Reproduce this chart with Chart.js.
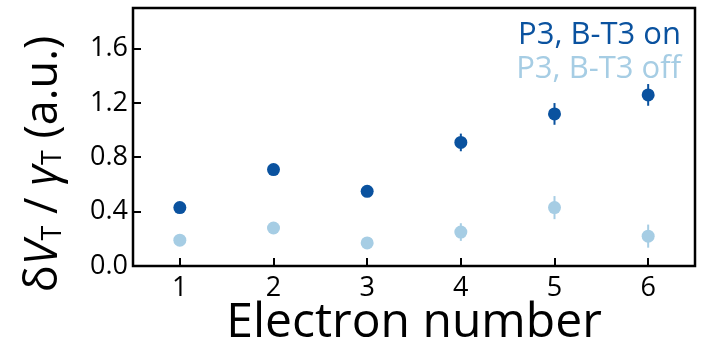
<!DOCTYPE html>
<html>
<head>
<meta charset="utf-8">
<script src="https://cdn.jsdelivr.net/npm/chart.js@4/dist/chart.umd.min.js"></script>
<style>
  html, body { margin: 0; padding: 0; background: #fff; }
  #wrap { width: 708px; height: 352px; position: relative; }
</style>
</head>
<body>
<div id="wrap"><canvas id="chart"></canvas></div>
<script>
// Electron number on x, normalised voltage shift on y
const electronNumbers = [1, 2, 3, 4, 5, 6];
const onValues  = [0.43, 0.71, 0.55, 0.91, 1.12, 1.26];
const onErrors  = [0.02, 0.02, 0.04, 0.065, 0.08, 0.08];
const offValues = [0.19, 0.28, 0.17, 0.25, 0.43, 0.22];
const offErrors = [0.02, 0.02, 0.04, 0.065, 0.085, 0.085];
const seriesLabels = ['P3, B-T3 on', 'P3, B-T3 off'];
const seriesColors = ['#0a529f', '#a6cde4'];
const yTicks = [0, 0.4, 0.8, 1.2, 1.6];

const FONT = '"Open Sans", "Noto Sans", sans-serif';

const datasets = [
  { label: seriesLabels[0], values: onValues, errors: onErrors, color: seriesColors[0] },
  { label: seriesLabels[1], values: offValues, errors: offErrors, color: seriesColors[1] },
].map(s => ({
  label: s.label,
  data: electronNumbers.map((x, i) => ({ x, y: s.values[i] })),
  errors: s.errors,
  backgroundColor: s.color,
  borderColor: s.color,
  pointRadius: 6.5,
  pointBorderWidth: 0,
  showLine: false,
}));

// vertical error bars behind the markers
const errorBars = {
  id: 'errorBars',
  beforeDatasetsDraw(chart) {
    const { ctx, scales: { x, y } } = chart;
    ctx.save();
    chart.data.datasets.forEach(ds => {
      ctx.strokeStyle = ds.borderColor;
      ctx.lineWidth = 2;
      ds.data.forEach((p, i) => {
        const e = ds.errors[i];
        const px = x.getPixelForValue(p.x);
        ctx.beginPath();
        ctx.moveTo(px, y.getPixelForValue(p.y - e));
        ctx.lineTo(px, y.getPixelForValue(p.y + e));
        ctx.stroke();
      });
    });
    ctx.restore();
  }
};

// boxed frame with inward ticks, legend text and y title
const frame = {
  id: 'frame',
  afterDraw(chart) {
    const { ctx, chartArea: a, scales: { x, y } } = chart;
    ctx.save();
    ctx.strokeStyle = '#000';
    ctx.lineWidth = 2.5;
    ctx.strokeRect(a.left, a.top, a.right - a.left, a.bottom - a.top);
    ctx.lineWidth = 2;
    ctx.beginPath();
    electronNumbers.forEach(v => {
      const px = Math.round(x.getPixelForValue(v));
      ctx.moveTo(px, a.bottom);
      ctx.lineTo(px, a.bottom - 8);
    });
    yTicks.forEach(v => {
      const py = Math.round(y.getPixelForValue(v));
      ctx.moveTo(a.left, py);
      ctx.lineTo(a.left + 8, py);
    });
    ctx.stroke();

    // legend as coloured text, right aligned in the plot corner
    ctx.font = '31px ' + FONT;
    ctx.textAlign = 'right';
    ctx.textBaseline = 'middle';
    chart.data.datasets.forEach((ds, i) => {
      ctx.fillStyle = ds.borderColor;
      ctx.fillText(ds.label, a.right - 14, a.top + 27 + i * 34);
    });

    // y title: δV_T / γ_T (a.u.)
    const parts = [
      { t: 'δ', f: '45px ' + FONT, dy: 0 },
      { t: 'V', f: 'italic 45px ' + FONT, dy: 0 },
      { t: 'T', f: '27px ' + FONT, dy: 9 },
      { t: ' / ', f: '45px ' + FONT, dy: 0 },
      { t: 'γ', f: 'italic 45px ' + FONT, dy: 0 },
      { t: 'T', f: '27px ' + FONT, dy: 9 },
      { t: ' (a.u.)', f: '45px ' + FONT, dy: 0 },
    ];
    let total = 0;
    parts.forEach(p => { ctx.font = p.f; p.w = ctx.measureText(p.t).width; total += p.w; });
    ctx.translate(44, 164);
    ctx.rotate(-Math.PI / 2);
    ctx.fillStyle = '#000';
    ctx.textAlign = 'left';
    ctx.textBaseline = 'middle';
    let cx = -total / 2;
    parts.forEach(p => {
      ctx.font = p.f;
      ctx.fillText(p.t, cx, p.dy);
      cx += p.w;
    });
    ctx.restore();
  }
};

new Chart(document.getElementById('chart'), {
  type: 'scatter',
  data: { datasets },
  plugins: [errorBars, frame],
  options: {
    responsive: true,
    maintainAspectRatio: false,
    animation: false,
    layout: { padding: { top: 8, right: 13, left: 0, bottom: 0 } },
    plugins: { legend: { display: false }, tooltip: { enabled: false } },
    scales: {
      x: {
        type: 'linear',
        min: 0.5,
        max: 6.5,
        afterBuildTicks(scale) { scale.ticks = electronNumbers.map(v => ({ value: v })); },
        afterFit(scale) { scale.height = 86; },
        grid: { display: false, drawTicks: false },
        border: { display: false },
        ticks: { color: '#000', padding: 6, font: { family: FONT, size: 27 } },
        title: {
          display: true,
          text: 'Electron number',
          color: '#000',
          padding: { top: 0, bottom: 0 },
          font: { family: FONT, size: 48 }
        }
      },
      y: {
        min: 0,
        max: 1.9,
        afterBuildTicks(scale) { scale.ticks = yTicks.map(v => ({ value: v })); },
        afterFit(scale) {
          scale.width = 133;
          scale.paddingTop = 0;
          scale.paddingBottom = 0;
        },
        grid: { display: false, drawTicks: false },
        border: { display: false },
        ticks: {
          color: '#000',
          padding: 5,
          font: { family: FONT, size: 27 },
          callback: v => v.toFixed(1)
        }
      }
    }
  }
});
</script>
</body>
</html>
